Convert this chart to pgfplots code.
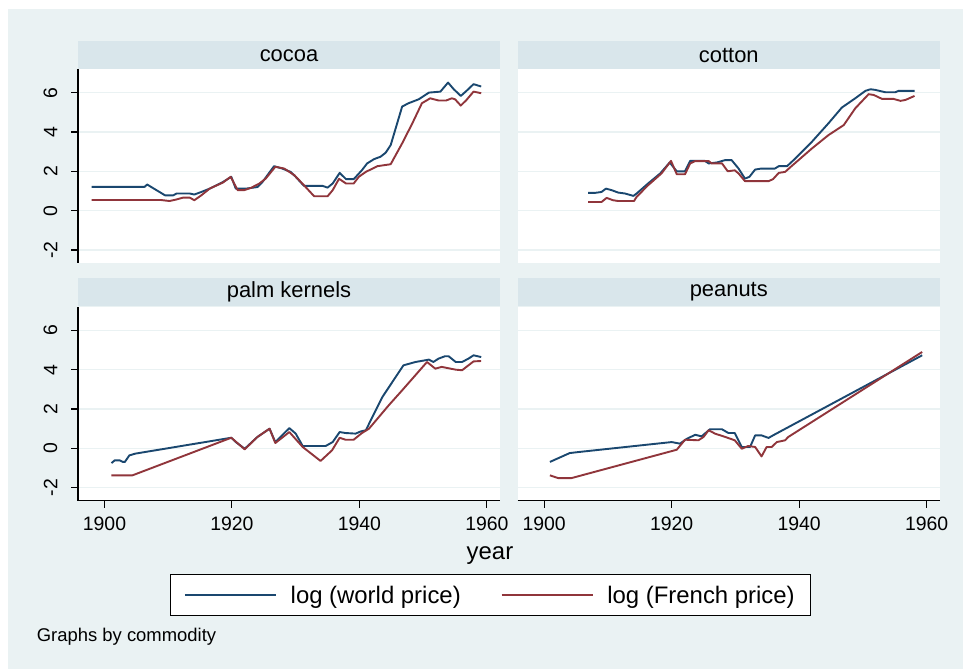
\documentclass[border=0pt]{standalone}
\usepackage{pgfplots}
\pgfplotsset{compat=1.18}
\usepackage{fontspec}
\setmainfont{Liberation Sans}
\definecolor{bgc}{HTML}{EAF2F3}
\definecolor{stripc}{HTML}{D9E6EB}
\definecolor{gridc}{HTML}{EAF2F3}
\definecolor{worldc}{HTML}{1A476F}
\definecolor{frenchc}{HTML}{90353B}
\pgfplotsset{
  panel/.style={
    scale only axis, width=422bp, height=194bp,
    xmin=1895.85, xmax=1962.05, ymin=-2.66, ymax=7.2,
    ytick={-2,0,2,4,6}, yticklabels={-2,0,2,4,6},
    xtick={1900,1920,1940,1960}, xticklabels={1900,1920,1940,1960},
    ymajorgrids, major grid style={draw=gridc, line width=1.5bp},
    axis background/.style={fill=white},
    tick align=outside, major tick length=7bp,
    separate axis lines,
    axis x line*=bottom, axis y line*=left,
    axis line style={line width=1.1bp, black},
    tick style={line width=1.1bp, black},
    tick label style={font=\fontsize{19.5}{22}\selectfont},
    yticklabel style={rotate=90, anchor=south, inner sep=0pt},
    yticklabel shift=13.5bp,
    xticklabel style={inner sep=0pt, yshift=-9bp},
    every axis plot/.append style={line width=1.9bp, line join=round, no markers},
  },
  toppanel/.style={x axis line style={draw=none}, xtick=\empty},
  rightpanel/.style={y axis line style={draw=none}, yticklabels={}, ytick style={draw=none}},
}
\begin{document}
\begin{tikzpicture}[x=1bp,y=1bp]
\fill[white] (0bp,0bp) rectangle (963bp,669bp);
\fill[bgc] (8bp,0bp) rectangle (963bp,660bp);
% strips
\fill[stripc] (78bp,599.7bp) rectangle (500bp,628.3bp);
\fill[stripc] (517.7bp,599.7bp) rectangle (939.7bp,628.3bp);
\fill[stripc] (78bp,363bp) rectangle (500bp,390.7bp);
\fill[stripc] (517.7bp,363bp) rectangle (939.7bp,390.7bp);
\node[font=\fontsize{22}{26}\selectfont] at (289bp,613.5bp) {cocoa};
\node[font=\fontsize{22}{26}\selectfont] at (728.8bp,613.5bp) {cotton};
\node[font=\fontsize{22}{26}\selectfont] at (289bp,377bp) {palm kernels};
\node[font=\fontsize{22}{26}\selectfont] at (728.8bp,377bp) {peanuts};

% cocoa
\begin{axis}[panel, toppanel, at={(78bp,406bp)}, anchor=south west]
\addplot[worldc] table {
x y
1898 1.21
1906.3 1.21
1906.7 1.33
1907.3 1.21
1909.5 0.78
1910.8 0.78
1911.3 0.87
1912.3 0.87
1913.4 0.87
1914.1 0.82
1915.2 0.95
1916.5 1.12
1918.6 1.46
1919.9 1.72
1920.6 1.12
1922.2 1.12
1924 1.2
1924.8 1.46
1926.6 2.26
1927.9 2.14
1929.2 1.97
1930 1.72
1931.3 1.26
1934.2 1.26
1935 1.17
1935.8 1.38
1936.9 1.92
1937.9 1.6
1939.1 1.6
1940.4 2.06
1941.2 2.4
1942.3 2.62
1943.3 2.74
1944.1 2.94
1944.9 3.33
1946.7 5.29
1947.7 5.46
1949.3 5.66
1950.9 6.0
1952.7 6.05
1953.9 6.51
1954.8 6.17
1955.9 5.83
1956.8 6.09
1957.9 6.43
1959.1 6.31
};
\addplot[frenchc] table {
x y
1898 0.54
1908.9 0.54
1910.2 0.49
1911.2 0.56
1912.3 0.66
1913.4 0.66
1914.1 0.53
1915.2 0.78
1916.5 1.12
1918.6 1.43
1919.8 1.72
1920.9 1.04
1921.9 1.04
1923 1.16
1924.3 1.38
1925.3 1.63
1926.8 2.23
1928.2 2.14
1929.8 1.8
1931.3 1.29
1932.9 0.73
1935 0.73
1935.8 1.04
1936.8 1.62
1937.9 1.38
1939.1 1.38
1939.9 1.72
1941 1.97
1942.8 2.26
1944.9 2.36
1946.7 3.42
1948.3 4.44
1949.8 5.46
1951.1 5.71
1952.4 5.6
1953.6 5.6
1954.5 5.71
1955 5.66
1955.9 5.34
1956.8 5.63
1957.9 6.05
1959.1 5.97
};
\end{axis}

% cotton
\begin{axis}[panel, toppanel, rightpanel, at={(517.7bp,406bp)}, anchor=south west]
\addplot[worldc] table {
x y
1906.9 0.9
1907.9 0.9
1909 0.95
1909.7 1.12
1910.6 1.04
1911.6 0.92
1912.7 0.87
1914 0.75
1914.5 0.87
1916.3 1.38
1918.2 1.89
1919.7 2.45
1920.8 2.0
1922.1 2.0
1922.9 2.53
1925.2 2.53
1925.8 2.4
1927.1 2.45
1928.4 2.57
1929.4 2.57
1930.5 2.14
1931.5 1.63
1932.2 1.72
1933.1 2.09
1934.1 2.14
1936.2 2.14
1936.8 2.26
1938.1 2.26
1939.4 2.65
1942 3.5
1944.6 4.44
1946.7 5.24
1948.8 5.71
1950.4 6.09
1951.2 6.17
1951.9 6.14
1953.5 6.02
1955.1 6.02
1955.6 6.09
1958.1 6.09
};
\addplot[frenchc] table {
x y
1906.9 0.44
1909 0.44
1909.8 0.65
1910.8 0.53
1911.6 0.49
1914.1 0.49
1914.5 0.70
1916.3 1.29
1918.4 1.89
1919.9 2.53
1920.8 1.85
1922.1 1.85
1922.9 2.4
1923.7 2.52
1925.8 2.52
1926.3 2.4
1927.9 2.4
1928.8 2.0
1929.9 2.05
1930.5 1.89
1931.5 1.5
1935.2 1.5
1935.9 1.6
1936.8 1.92
1937.8 1.97
1938.8 2.26
1942 3.16
1944.6 3.84
1947 4.35
1948.8 5.2
1950.9 5.92
1951.7 5.88
1953 5.68
1954.8 5.68
1955.9 5.58
1956.7 5.63
1958.1 5.83
};
\end{axis}

% palm kernels
\begin{axis}[panel, at={(78bp,168.3bp)}, anchor=south west,
  legend columns=2,
  legend style={at={(axis description cs:0.9773,-0.4874)}, anchor=center,
    draw=black, line width=0.8bp, fill=white,
    font=\fontsize{24}{28}\selectfont,
    inner xsep=13.5bp, inner ysep=9bp,
    /tikz/every odd column/.append style={column sep=12bp},
    /tikz/every even column/.append style={column sep=38bp}},
  legend image code/.code={\draw[#1, line width=1.6bp] (0bp,0bp) -- (91bp,0bp);},
  ]
\addplot[worldc] table {
x y
1901.1 -0.75
1901.6 -0.61
1902.4 -0.61
1902.9 -0.69
1903.2 -0.69
1903.9 -0.36
1904.8 -0.27
1919.9 0.54
1920.6 0.32
1922 -0.02
1924 0.58
1925.9 1.0
1926.8 0.32
1929 1.03
1930 0.75
1931.1 0.12
1934.7 0.12
1935.8 0.32
1936.9 0.83
1937.8 0.78
1939.4 0.75
1940.2 0.86
1941 0.92
1943.6 2.61
1946.9 4.22
1948.8 4.39
1950.9 4.51
1951.6 4.39
1952.4 4.56
1953.4 4.68
1954 4.68
1955.1 4.39
1956.1 4.39
1957.1 4.56
1957.9 4.73
1959.1 4.64
};
\addlegendentry{log (world price)}
\addplot[frenchc] table {
x y
1901.1 -1.37
1904.4 -1.37
1919.9 0.54
1922 -0.05
1924 0.58
1925.9 1.0
1926.8 0.27
1929 0.83
1931.1 0.07
1933.9 -0.64
1935.7 -0.1
1936.9 0.54
1937.8 0.44
1939.1 0.44
1940.4 0.78
1941.5 1.0
1944.6 2.19
1946.7 2.95
1950.6 4.39
1951.9 4.05
1952.9 4.14
1955.1 4.0
1956.1 3.97
1957.9 4.42
1959.1 4.44
};
\addlegendentry{log (French price)\hspace{16bp}}
\end{axis}

% peanuts
\begin{axis}[panel, rightpanel, at={(517.7bp,168.3bp)}, anchor=south west]
\addplot[worldc] table {
x y
1900.9 -0.69
1904 -0.24
1905.3 -0.19
1920 0.32
1921.3 0.24
1922.4 0.49
1923.7 0.69
1924.7 0.61
1926 0.97
1927.9 0.97
1928.9 0.78
1929.9 0.78
1931 0.07
1932.3 0.07
1933.1 0.66
1934.1 0.66
1935.2 0.53
1935.9 0.66
1959.3 4.73
};
\addplot[frenchc] table {
x y
1900.9 -1.37
1902.2 -1.51
1904.3 -1.51
1920.8 -0.07
1922.1 0.44
1924.2 0.41
1925 0.58
1925.8 0.92
1926.8 0.75
1928.4 0.58
1929.9 0.41
1931 -0.02
1932 0.12
1933.1 0.07
1934.1 -0.41
1934.9 0.07
1935.7 0.07
1936.5 0.32
1937.8 0.41
1938.3 0.58
1959.3 4.9
};
\end{axis}

\node[font=\fontsize{24}{28}\selectfont] at (490bp,113bp) {year};
\node[anchor=west, inner sep=0pt, font=\fontsize{18.5}{22}\selectfont] at (36.7bp,32.3bp) {Graphs by commodity};
\end{tikzpicture}
\end{document}
